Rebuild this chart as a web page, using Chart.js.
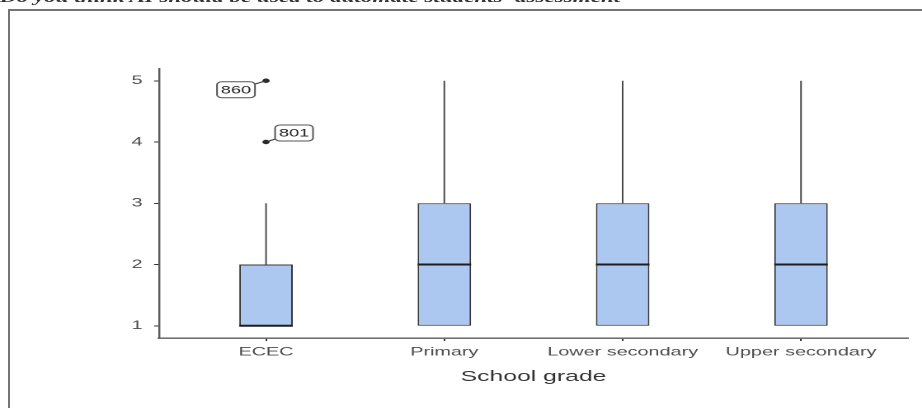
<!DOCTYPE html>
<html>
<head>
<meta charset="utf-8">
<script src="https://cdn.jsdelivr.net/npm/chart.js@4.4.1/dist/chart.umd.min.js"></script>
<style>
  html, body { margin: 0; padding: 0; background: #fff; overflow: hidden; }
  body { width: 922px; height: 408px; position: relative; }
  #frame {
    position: absolute; left: 8px; top: 9px; width: 960px; height: 440px;
    border: 2px solid #747474; box-sizing: border-box;
  }
  #stretch {
    position: absolute; left: 0; top: 0; width: 559px; height: 408px;
    transform: scaleX(1.6494); transform-origin: 0 0;
  }
  #heading {
    position: absolute; left: 0; top: -10.5px; white-space: nowrap;
    font: italic bold 14px "Liberation Serif", serif; color: #333;
  }
  #box { position: absolute; left: 0; top: 0; width: 559px; height: 408px; }
</style>
</head>
<body>
<div id="frame"></div>
<div id="stretch">
  <div id="heading">Do you think AI should be used to automate students' assessment</div>
  <div id="box"><canvas id="c"></canvas></div>
</div>
<script>
// School grades on the x axis and the box-plot summaries of the 1-5 answers
const categories  = ['ECEC', 'Primary', 'Lower secondary', 'Upper secondary'];
const q1          = [1, 1, 1, 1];
const median      = [1, 2, 2, 2];
const q3          = [2, 3, 3, 3];
const whiskerLow  = [1, 1, 1, 1];
const whiskerHigh = [3, 5, 5, 5];

// Outlying answers (category index, value, respondent id)
const outlierCategory = [0, 0];
const outlierValue    = [5, 4];
const outlierId       = ['860', '801'];

const yTicks = [1, 2, 3, 4, 5];
const xTitle = 'School grade';

const FONT = '"Liberation Sans", Arial, sans-serif';

// Whiskers, medians and respondent labels drawn on top of the boxes
const boxExtras = {
  id: 'boxExtras',
  afterDatasetsDraw(chart, args, opts) {
    const { ctx, scales: { x, y } } = chart;
    ctx.save();
    // whiskers
    ctx.strokeStyle = '#4a4a4a';
    ctx.lineWidth = 1;
    categories.forEach((c, i) => {
      const px = x.getPixelForValue(i);
      ctx.beginPath();
      ctx.moveTo(px, y.getPixelForValue(q3[i]));
      ctx.lineTo(px, y.getPixelForValue(whiskerHigh[i]));
      ctx.moveTo(px, y.getPixelForValue(q1[i]));
      ctx.lineTo(px, y.getPixelForValue(whiskerLow[i]));
      ctx.stroke();
    });
    // medians
    const barMeta = chart.getDatasetMeta(0);
    ctx.strokeStyle = '#1e1e1e';
    ctx.lineWidth = 2;
    barMeta.data.forEach((bar, i) => {
      const half = bar.width / 2;
      const py = y.getPixelForValue(median[i]);
      ctx.beginPath();
      ctx.moveTo(bar.x - half, py);
      ctx.lineTo(bar.x + half, py);
      ctx.stroke();
    });
    // respondent labels with connector segments
    const ptMeta = chart.getDatasetMeta(1);
    ctx.font = '11px ' + FONT;
    ctx.textAlign = 'center';
    ctx.textBaseline = 'middle';
    ptMeta.data.forEach((pt, k) => {
      const off = opts.offsets[k];
      const cx = pt.x + off.dx, cy = pt.y + off.dy;
      const hw = opts.boxW / 2, hh = opts.boxH / 2;
      // segment from point to the label edge
      const dx = cx - pt.x, dy = cy - pt.y;
      const t = 1 - Math.min(hw / Math.abs(dx || 1e-6), hh / Math.abs(dy || 1e-6));
      ctx.strokeStyle = '#333';
      ctx.lineWidth = 1;
      ctx.beginPath();
      ctx.moveTo(pt.x, pt.y);
      ctx.lineTo(pt.x + dx * t, pt.y + dy * t);
      ctx.stroke();
      ctx.beginPath();
      ctx.roundRect(cx - hw, cy - hh, opts.boxW, opts.boxH, 3);
      ctx.fillStyle = '#fff';
      ctx.fill();
      ctx.strokeStyle = '#555';
      ctx.stroke();
      ctx.fillStyle = '#222';
      ctx.fillText(outlierId[k], cx, cy + 0.5);
    });
    ctx.restore();
  }
};

new Chart(document.getElementById('c'), {
  type: 'bar',
  data: {
    datasets: [
      {
        type: 'bar',
        data: categories.map((c, i) => ({ x: i, y: [q1[i], q3[i]] })),
        backgroundColor: '#adc8f0',
        borderColor: '#383838',
        borderWidth: 1,
        borderSkipped: false,
        categoryPercentage: 1,
        barPercentage: 0.3
      },
      {
        type: 'scatter',
        data: outlierValue.map((v, k) => ({ x: outlierCategory[k], y: v })),
        pointRadius: 2.2,
        pointBackgroundColor: '#2a2a2a',
        pointBorderWidth: 0
      }
    ]
  },
  plugins: [boxExtras],
  options: {
    responsive: true,
    maintainAspectRatio: false,
    devicePixelRatio: 2,
    animation: false,
    layout: { padding: { top: 68.5, right: 8.5, bottom: 0, left: 0 } },
    plugins: {
      legend: { display: false },
      tooltip: { enabled: false },
      boxExtras: {
        boxW: 23, boxH: 16,
        offsets: [ { dx: -18.2, dy: 9 }, { dx: 17, dy: -9 } ]
      }
    },
    scales: {
      x: {
        type: 'linear',
        min: -0.6, max: 3.6,
        offset: false,
        grid: { display: true, offset: false, drawOnChartArea: false, tickLength: 3, tickColor: '#333', tickWidth: 1 },
        border: { display: true, color: '#5a5a5a', width: 1.4 },
        afterBuildTicks: s => { s.ticks = categories.map((c, i) => ({ value: i })); },
        afterFit: s => { s.height = 70; },
        ticks: {
          autoSkip: false, maxRotation: 0, padding: 4,
          color: '#4d4d4d', font: { family: FONT, size: 12 },
          callback: v => categories[v]
        },
        title: {
          display: true, text: xTitle, color: '#333',
          font: { family: FONT, size: 15 },
          padding: { top: 0, bottom: 22 }
        }
      },
      y: {
        type: 'linear',
        min: 0.8, max: 5.2,
        grid: { display: true, drawOnChartArea: false, tickLength: 3, tickColor: '#333', tickWidth: 1 },
        border: { display: true, color: '#5a5a5a', width: 1.2 },
        afterBuildTicks: s => { s.ticks = yTicks.map(v => ({ value: v })); },
        afterFit: s => { s.width = 96.4; },
        ticks: {
          padding: 7, color: '#4d4d4d', font: { family: FONT, size: 12 },
          callback: v => String(v)
        }
      }
    }
  }
});
</script>
</body>
</html>
